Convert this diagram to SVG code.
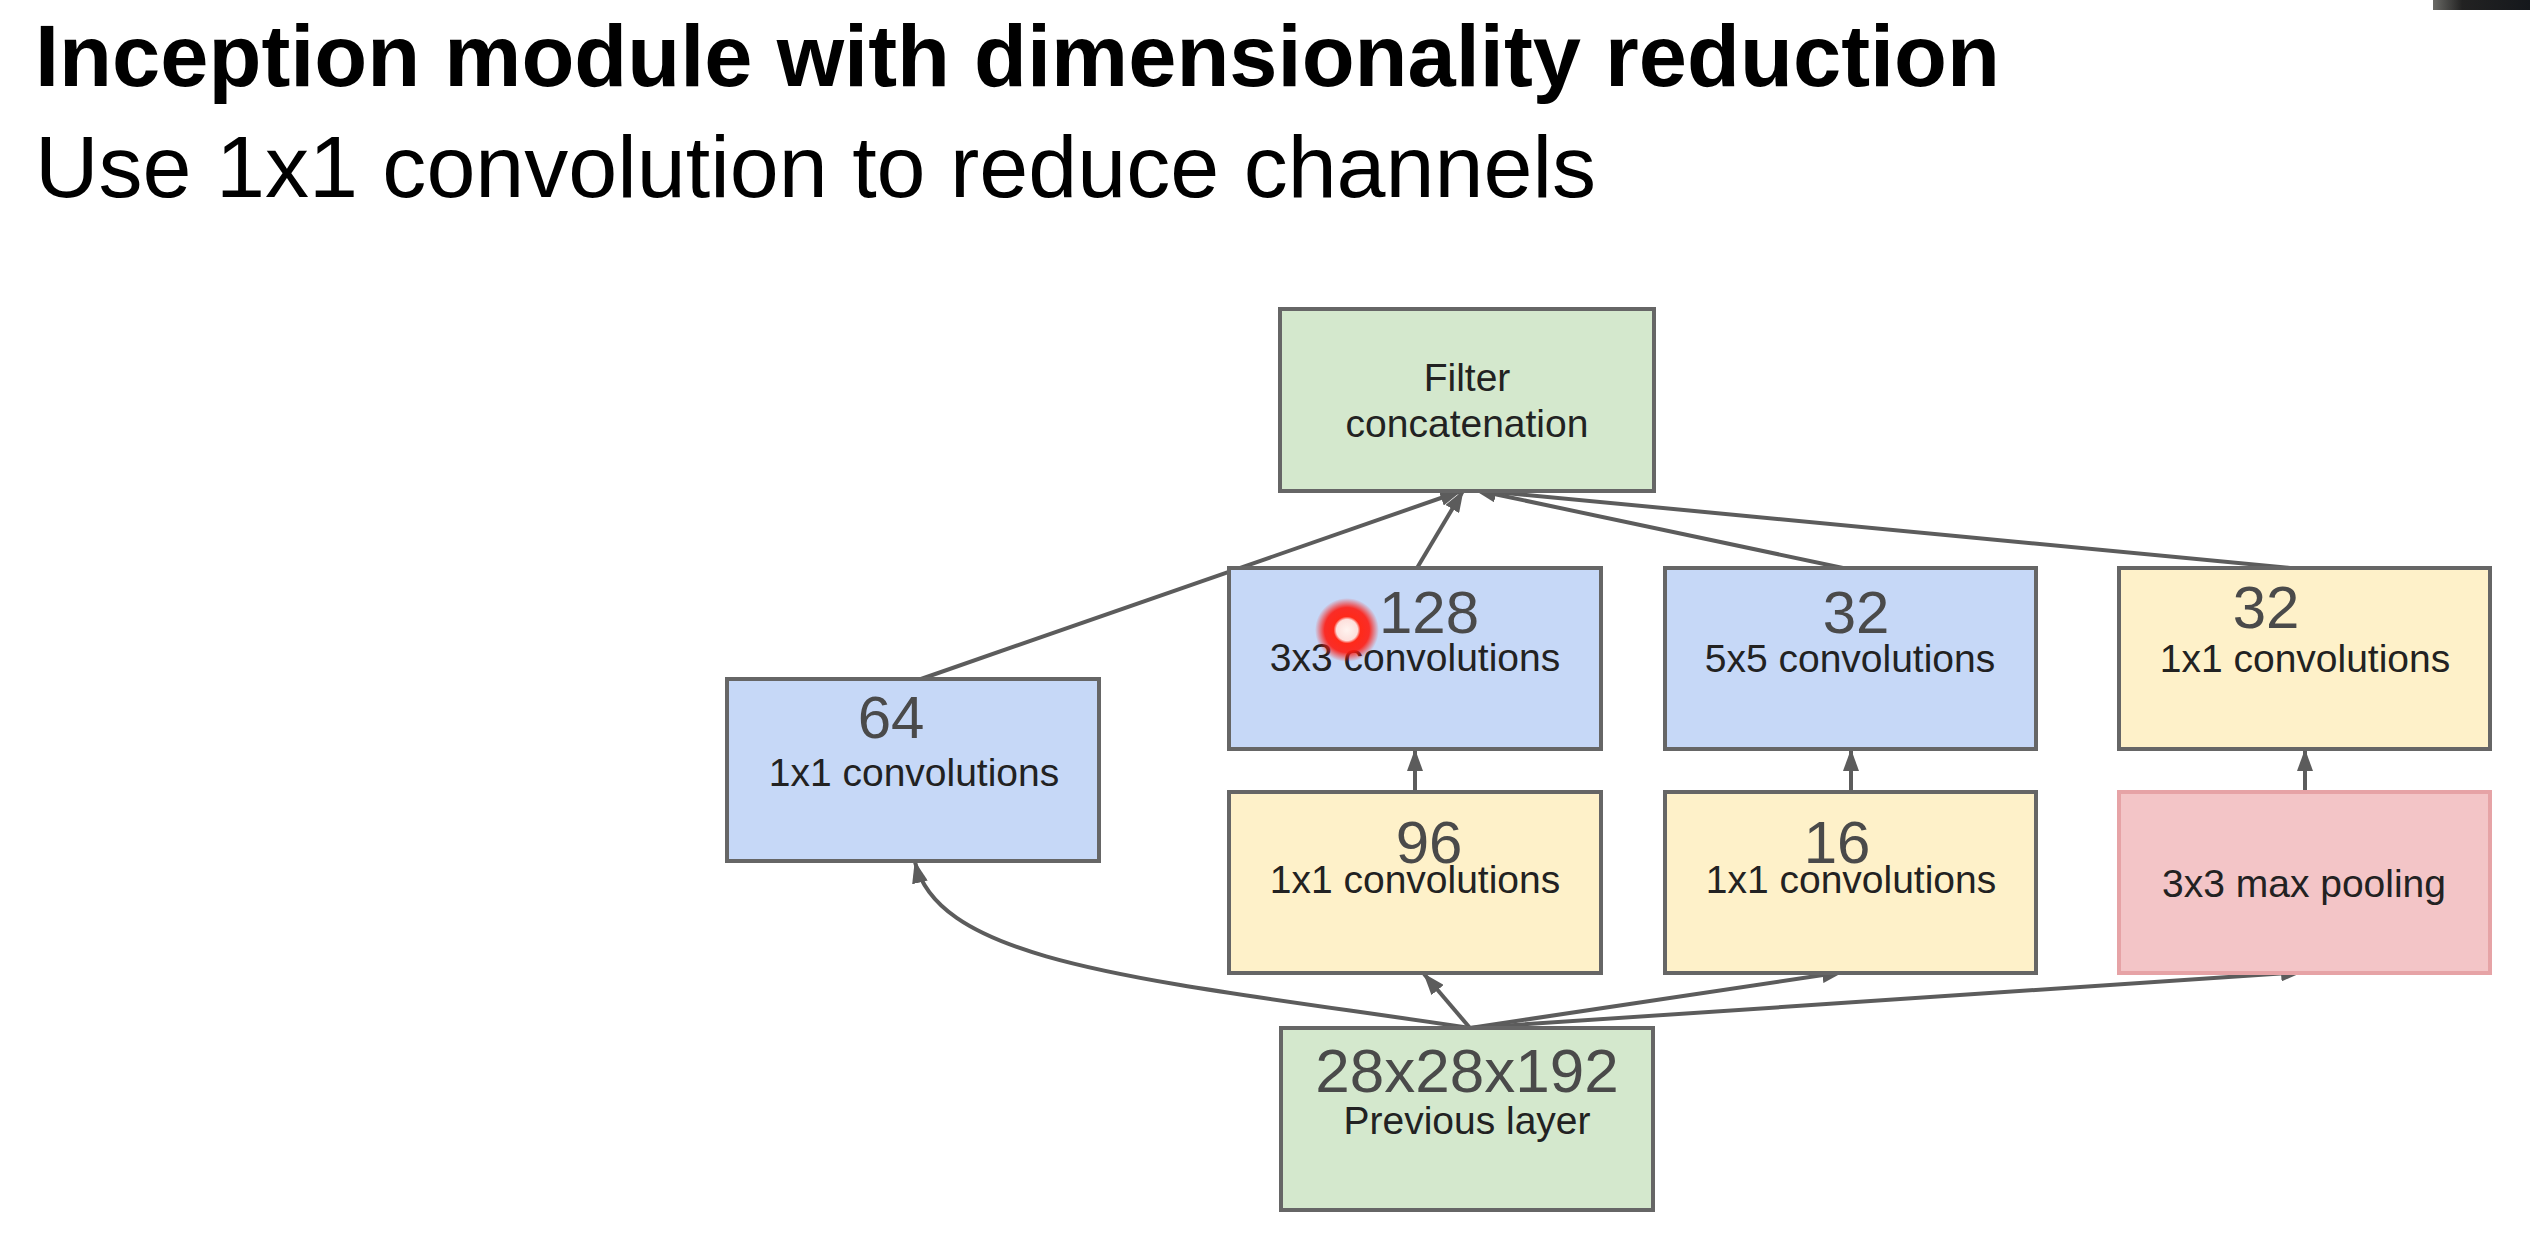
<svg xmlns="http://www.w3.org/2000/svg" width="2530" height="1245" viewBox="0 0 2530 1245">
<style>
.t{font-family:"Liberation Sans",Arial,sans-serif}
.box{stroke:#666;stroke-width:4}
.blue{fill:#c6d8f7}
.yel{fill:#fef1c9}
.grn{fill:#d4e8cd}
.red{fill:#f3c5c7;stroke:#e6a3a6}
.num{font-family:"Liberation Sans",Arial,sans-serif;font-size:60px;fill:#4a4a4a;text-anchor:middle}
.lbl{font-family:"Liberation Sans",Arial,sans-serif;font-size:39px;fill:#222;text-anchor:middle}
.conn{fill:none;stroke:#5c5c5c;stroke-width:4}
</style>
<defs>
<marker id="ah" viewBox="0 0 22 16" refX="21" refY="8" markerWidth="22" markerHeight="16" markerUnits="userSpaceOnUse" orient="auto">
<path d="M0,0 L22,8 L0,16 z" fill="#5c5c5c"/>
</marker>
<radialGradient id="dot">
<stop offset="0" stop-color="#fff4f0"/>
<stop offset="0.33" stop-color="#fde0dc"/>
<stop offset="0.42" stop-color="#ff2a1a"/>
<stop offset="0.7" stop-color="#ff1a10" stop-opacity="0.9"/>
<stop offset="1" stop-color="#ff1a10" stop-opacity="0"/>
</radialGradient>
<linearGradient id="corner" x1="0" y1="0" x2="1" y2="0">
<stop offset="0" stop-color="#6a6a66"/>
<stop offset="0.3" stop-color="#222"/>
<stop offset="1" stop-color="#15181c"/>
</linearGradient>
</defs>
<rect width="2530" height="1245" fill="#fff"/>
<rect x="2433" y="0" width="97" height="10" fill="url(#corner)"/>
<text class="t" x="35" y="86" font-size="87" font-weight="bold" fill="#000" textLength="1965" lengthAdjust="spacingAndGlyphs">Inception module with dimensionality reduction</text>
<text class="t" x="35" y="197" font-size="87" fill="#000" textLength="1561" lengthAdjust="spacingAndGlyphs">Use 1x1 convolution to reduce channels</text>
<g id="connectors">
<line class="conn" x1="921" y1="679" x2="1461" y2="491" marker-end="url(#ah)"/>
<line class="conn" x1="1417" y1="568" x2="1463" y2="491" marker-end="url(#ah)"/>
<line class="conn" x1="1843" y1="568" x2="1475" y2="490" marker-end="url(#ah)"/>
<line class="conn" x1="2290" y1="568" x2="1475" y2="490" marker-end="url(#ah)"/>
<line class="conn" x1="1415" y1="792" x2="1415" y2="750" marker-end="url(#ah)"/>
<line class="conn" x1="1851" y1="792" x2="1851" y2="750" marker-end="url(#ah)"/>
<line class="conn" x1="2305" y1="792" x2="2305" y2="750" marker-end="url(#ah)"/>
<line class="conn" x1="1470" y1="1028" x2="1424" y2="974" marker-end="url(#ah)"/>
<line class="conn" x1="1470" y1="1028" x2="1843" y2="972" marker-end="url(#ah)"/>
<line class="conn" x1="1470" y1="1028" x2="2302" y2="972" marker-end="url(#ah)"/>
<path class="conn" d="M1470,1028 C1150,980 940,965 915,862" marker-end="url(#ah)"/>
</g>
<g id="filter-concat">
<rect class="box grn" x="1280" y="309" width="374" height="182"/>
<text class="lbl" x="1467" y="391">Filter</text>
<text class="lbl" x="1467" y="437">concatenation</text>
</g>
<g id="conv1x1-64">
<rect class="box blue" x="727" y="679" width="372" height="182"/>
<text class="num" x="891" y="738">64</text>
<text class="lbl" x="914" y="786">1x1 convolutions</text>
</g>
<g id="conv3x3-128">
<rect class="box blue" x="1229" y="568" width="372" height="181"/>
<text class="num" x="1429" y="633">128</text>
<text class="lbl" x="1415" y="671">3x3 convolutions</text>
</g>
<g id="conv5x5-32">
<rect class="box blue" x="1665" y="568" width="371" height="181"/>
<text class="num" x="1856" y="633">32</text>
<text class="lbl" x="1850" y="672">5x5 convolutions</text>
</g>
<g id="conv1x1-32">
<rect class="box yel" x="2119" y="568" width="371" height="181"/>
<text class="num" x="2266" y="628">32</text>
<text class="lbl" x="2305" y="672">1x1 convolutions</text>
</g>
<g id="conv1x1-96">
<rect class="box yel" x="1229" y="792" width="372" height="181"/>
<text class="num" x="1429" y="863">96</text>
<text class="lbl" x="1415" y="893">1x1 convolutions</text>
</g>
<g id="conv1x1-16">
<rect class="box yel" x="1665" y="792" width="371" height="181"/>
<text class="num" x="1837" y="863">16</text>
<text class="lbl" x="1851" y="893">1x1 convolutions</text>
</g>
<g id="maxpool">
<rect class="box red" x="2119" y="792" width="371" height="181"/>
<text class="lbl" x="2304" y="897">3x3 max pooling</text>
</g>
<g id="previous-layer">
<rect class="box grn" x="1281" y="1028" width="372" height="182"/>
<text class="num" x="1467" y="1092" style="font-size:62px">28x28x192</text>
<text class="lbl" x="1467" y="1134">Previous layer</text>
</g>
<circle cx="1347" cy="630" r="32" fill="url(#dot)"/>
</svg>
